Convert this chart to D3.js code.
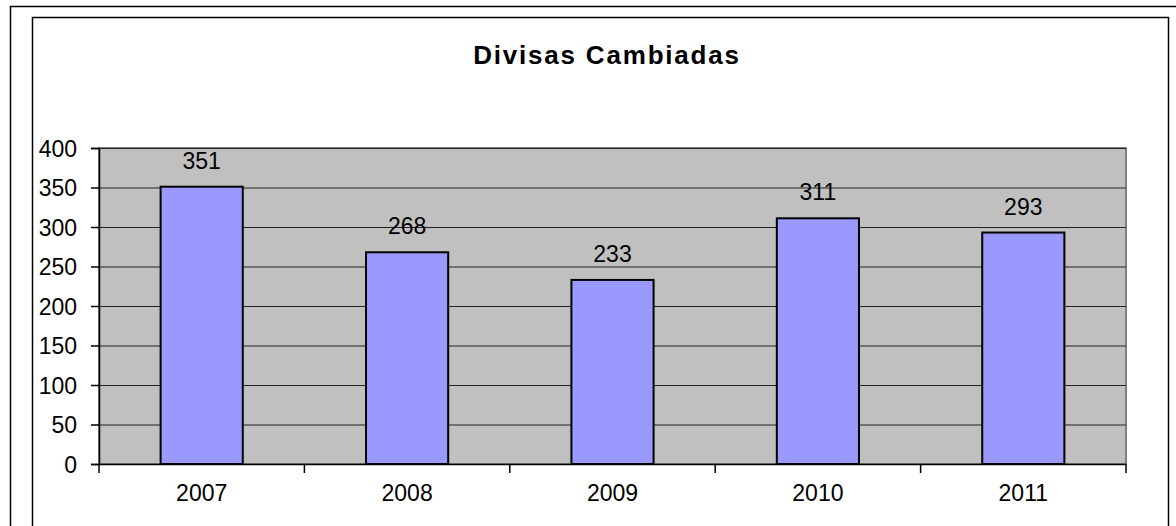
<!DOCTYPE html>
<html><head><meta charset="utf-8">
<script src="https://cdn.jsdelivr.net/npm/d3@7/dist/d3.min.js"></script>
<style>body{margin:0;background:#fff}svg{display:block}text{font-family:Arial,"Liberation Sans",sans-serif;fill:#000}</style>
</head><body><svg id="c" width="1176" height="526"></svg>
<script>
const categories = ["2007","2008","2009","2010","2011"];
const values = [351,268,233,311,293];
const yTicks = [0,50,100,150,200,250,300,350,400];
const title = "Divisas Cambiadas";

const svg = d3.select("#c");
// frames
svg.append("rect").attr("x",10.5).attr("y",6.5).attr("width",1180).attr("height",540).attr("fill","#fff").attr("stroke","#000").attr("stroke-width",1.5);
svg.append("rect").attr("x",32.5).attr("y",17.5).attr("width",1136).attr("height",530).attr("fill","#fff").attr("stroke","#000").attr("stroke-width",1.5);

const L=99, R=1126, T=148, B=464;
const x = d3.scaleBand().domain(categories).range([L,R]).paddingInner(0.6).paddingOuter(0.3);
const xb = d3.scaleBand().domain(categories).range([L,R]);
const y = d3.scaleLinear().domain([0,400]).range([B,T]);

svg.append("text").attr("x",607).attr("y",64).attr("text-anchor","middle")
  .attr("font-size",26).attr("font-weight","bold").attr("letter-spacing",1.8).text(title);

svg.append("rect").attr("x",L).attr("y",T).attr("width",R-L).attr("height",B-T).attr("fill","#c0c0c0").attr("stroke","#808080").attr("stroke-width",2);

const grid = svg.append("g").attr("transform",`translate(${L},0)`)
  .call(d3.axisLeft(y).tickValues(yTicks.slice(1)).tickSize(-(R-L)).tickFormat(""));
grid.select(".domain").remove();
grid.selectAll("line").attr("stroke","#222").attr("stroke-width",1.2);

svg.selectAll(".bar").data(values).join("rect").attr("class","bar")
  .attr("x",(d,i)=>x(categories[i])).attr("width",x.bandwidth())
  .attr("y",d=>y(d)).attr("height",d=>y(0)-y(d))
  .attr("fill","#9999ff").attr("stroke","#000").attr("stroke-width",2);

svg.selectAll(".lbl").data(values).join("text").attr("class","lbl")
  .attr("x",(d,i)=>x(categories[i])+x.bandwidth()/2).attr("y",d=>y(d)-18)
  .attr("text-anchor","middle").attr("font-size",23).text(d=>d);

const ya = svg.append("g").attr("transform",`translate(${L},0)`)
  .call(d3.axisLeft(y).tickValues(yTicks).tickSize(8).tickPadding(14));
ya.select(".domain").attr("stroke","#000").attr("stroke-width",1.5);
ya.selectAll("line").attr("stroke","#000").attr("stroke-width",1.5);
ya.selectAll("text").attr("font-size",23).attr("font-family","Arial, Liberation Sans, sans-serif").attr("fill","#000").attr("dy","0.36em");

const xa = svg.append("g").attr("transform",`translate(0,${B})`)
  .call(d3.axisBottom(xb).tickSize(0).tickPadding(21));
xa.select(".domain").attr("stroke","#000").attr("stroke-width",1.5);
xa.selectAll("text").attr("font-size",23).attr("font-family","Arial, Liberation Sans, sans-serif").attr("fill","#000");
// boundary ticks
const bounds = categories.map(c=>xb(c)).concat([R]);
svg.append("g").selectAll("line").data(bounds).join("line")
  .attr("x1",d=>d).attr("x2",d=>d).attr("y1",B).attr("y2",B+9).attr("stroke","#000").attr("stroke-width",1.5);
</script></body></html>
